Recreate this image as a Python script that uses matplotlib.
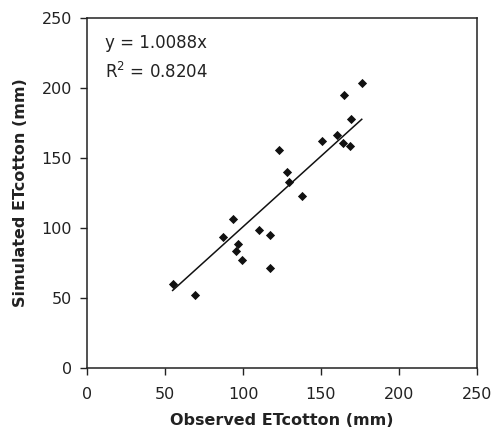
import matplotlib
matplotlib.use("Agg")
import matplotlib.pyplot as plt
import numpy as np

plt.rcParams['font.family'] = ['DejaVu Sans']

observed = [54.8, 68.9, 86.9, 93.3, 96.5, 95.7, 99.3, 110.0, 117.1, 117.1, 123.1,
            128.2, 129.5, 138.0, 150.9, 160.1, 164.4, 168.5, 169.1, 165.0, 176.2]
simulated = [60.1, 51.8, 93.7, 106.6, 88.7, 83.5, 77.1, 98.7, 94.9, 71.1, 156.0,
             139.8, 133.1, 122.6, 162.2, 166.7, 160.5, 158.9, 177.7, 194.9, 203.5]
slope = 1.0088
r2 = 0.8204
ticks = [0, 50, 100, 150, 200, 250]

fig = plt.figure(figsize=(4.93, 4.40), dpi=100)
ax = fig.add_axes([0.177, 0.1643, 0.790, 0.7941])

ax.scatter(observed, simulated, marker='D', s=22, color='#111111', zorder=3, linewidths=0)
xl = np.array([min(observed), max(observed)])
ax.plot(xl, slope * xl, color='#111111', lw=1.1)

ax.set_xlim(0, 250)
ax.set_ylim(0, 250)
ax.set_xticks(ticks)
ax.set_yticks(ticks)
ax.tick_params(direction='out', length=5, width=1, labelsize=11.5, colors='#222222')
ax.tick_params(axis='x', pad=9)
ax.tick_params(axis='y', pad=6)
for s in ax.spines.values():
    s.set_linewidth(1.1)
    s.set_color('#222222')

ax.set_xlabel('Observed ETcotton (mm)', fontsize=11.5, fontweight='bold', color='#222222', labelpad=8)
ax.set_ylabel('Simulated ETcotton (mm)', fontsize=11.5, fontweight='bold', color='#222222', labelpad=10)

ax.text(0.045, 0.955, f'y = {slope:.4f}x', transform=ax.transAxes, fontsize=12,
        va='top', ha='left', color='#222222')
ax.text(0.045, 0.875, f'R$^2$ = {r2:.4f}', transform=ax.transAxes, fontsize=12,
        va='top', ha='left', color='#222222')

fig.savefig('out.png', dpi=100)
